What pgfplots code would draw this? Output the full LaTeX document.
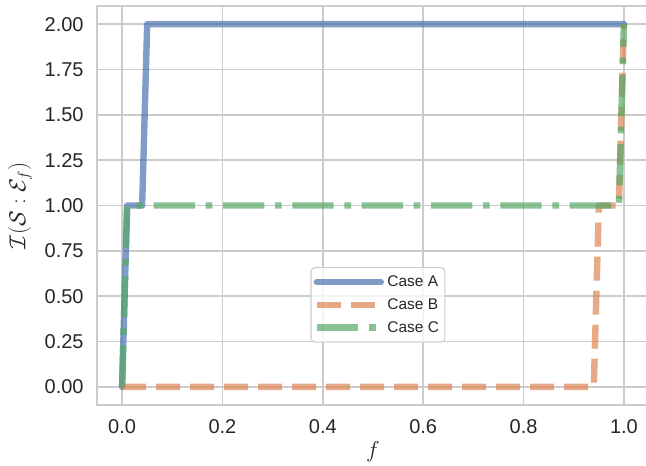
\documentclass[border=0pt]{standalone}
\usepackage{fontspec}
\setmainfont{Liberation Sans}
\usepackage{pgfplots}
\pgfplotsset{compat=1.18}
\definecolor{sbblue}{HTML}{4C72B0}
\definecolor{sborange}{HTML}{DD8452}
\definecolor{sbgreen}{HTML}{55A868}
\definecolor{gray80}{HTML}{CCCCCC}
\definecolor{txt}{HTML}{262626}
\begin{document}
\begin{tikzpicture}
\begin{axis}[
  at={(0,0)}, anchor=south west,
  width=414pt, height=299.25pt, scale only axis,
  xmin=-0.05, xmax=1.05, ymin=-0.1, ymax=2.1,
  xtick={0,0.2,0.4,0.6,0.8,1.0},
  ytick={0,0.25,0.5,0.75,1.0,1.25,1.5,1.75,2.0},
  major tick length=0pt,
  grid=major,
  grid style={draw=gray80, line width=1.1pt},
  axis line style={draw=gray80, line width=1.5pt},
  tick label style={font=\fontsize{15}{18}\selectfont, text=txt},
  /pgf/number format/assume math mode=true,
  xticklabel style={/pgf/number format/.cd, fixed, fixed zerofill, precision=1, /tikz/.cd, yshift=-7pt},
  yticklabel style={/pgf/number format/.cd, fixed, fixed zerofill, precision=2, /tikz/.cd, xshift=-6.5pt},
  xlabel={$f$},
  ylabel={$\mathcal{I}(\mathcal{S}:\mathcal{E}_f)$},
  xlabel style={at={(axis description cs:0.5,-0.1178)}, anchor=center, font=\fontsize{16}{19}\selectfont, text=txt},
  ylabel style={at={(axis description cs:-0.1395,0.5)}, anchor=center, font=\fontsize{16.5}{19}\selectfont, text=txt},
  legend style={at={(axis description cs:0.509,0.251)}, anchor=center,
    font=\fontsize{11.6}{13}\selectfont, text=txt,
    draw=gray80, line width=0.8pt, rounded corners=3pt,
    fill=white, fill opacity=0.8, text opacity=1, draw opacity=1,
    row sep=2.5pt, inner xsep=2pt, inner ysep=3.5pt,
    nodes={inner sep=2.5pt}},
  legend cell align=left,
  legend image code/.code={\draw[#1, rounded corners=0pt] (5pt,0pt) -- (53pt,0pt);},
]
\addplot[sbblue, opacity=0.7, line width=4.8pt, line cap=round, line join=round] coordinates {
 (0,0) (0.01,1) (0.04,1) (0.05,2) (1,2)};
\addlegendentry{Case A}
\addplot[sborange, opacity=0.7, line width=4.8pt, line cap=butt, line join=round, dash pattern=on 18pt off 7.5pt] coordinates {
 (0,0) (0.94,0) (0.95,1) (0.99,1) (1,2)};
\addlegendentry{Case B}
\addplot[sbgreen, opacity=0.7, line width=4.8pt, line cap=butt, line join=round, dash pattern=on 31pt off 8pt on 5pt off 8pt] coordinates {
 (0,0) (0.01,1) (0.99,1) (1,2)};
\addlegendentry{Case C}
\end{axis}
\pgfresetboundingbox
\useasboundingbox (-72.75pt,-45pt) rectangle (411.75pt,303.75pt);
\end{tikzpicture}
\end{document}
